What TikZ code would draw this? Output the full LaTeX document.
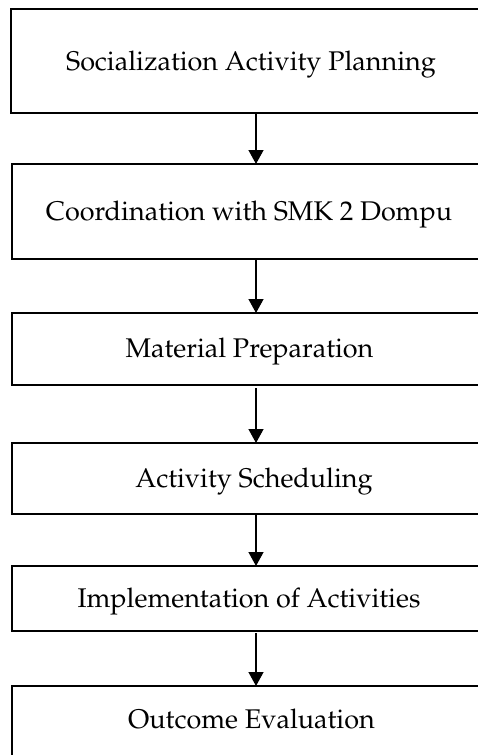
\documentclass[tikz,border=0pt]{standalone}
\usepackage[T1]{fontenc}
\renewcommand\rmdefault{ppl}
\usetikzlibrary{arrows.meta}
\begin{document}
\begin{tikzpicture}[x=1pt,y=-1pt,
  stepbox/.style={draw, line width=1.3pt, minimum width=560pt, inner sep=0pt,
    outer sep=0pt, anchor=north west},
  steptext/.style={inner sep=0pt, anchor=base, font=\fontsize{27}{32}\selectfont},
  arr/.style={line width=1.3pt, -{Triangle[length=14pt,width=15pt]}}]
\useasboundingbox (0,0) rectangle (478,755);
\begin{scope}
\clip (0,0) rectangle (478,755);
\fill[white] (0,0) rectangle (478,755);
\coordinate (ax) at (256,0);
\node[stepbox, minimum height=104pt] (b1) at (11,9) {};
\node[stepbox, minimum height=95pt] (b2) at (12,164) {};
\node[stepbox, minimum height=72pt] (b3) at (12,313) {};
\node[stepbox, minimum height=71pt] (b4) at (12,443) {};
\node[stepbox, minimum height=65pt] (b5) at (12,566) {};
\node[stepbox, minimum height=84pt] (b6) at (12,686) {};
\node[steptext] (t1) at (251,70) {Socialization Activity Planning};
\node[steptext] (t2) at (249,220.5) {Coordination with SMK 2 Dompu};
\node[steptext] (t3) at (249.5,357) {Material Preparation};
\node[steptext] (t4) at (254,487) {Activity Scheduling};
\node[steptext] (t5) at (249,607) {Implementation of Activities};
\node[steptext] (t6) at (251.5,728) {Outcome Evaluation};
\draw[arr] (b1.south -| ax) -- (b2.north -| ax);
\draw[arr] (b2.south -| ax) -- (b3.north -| ax);
\draw[arr, shorten <=3pt] (b3.south -| ax) -- (b4.north -| ax);
\draw[arr] (b4.south -| ax) -- (b5.north -| ax);
\draw[arr, shorten <=2pt] (b5.south -| ax) -- (b6.north -| ax);
\end{scope}
\end{tikzpicture}
\end{document}
